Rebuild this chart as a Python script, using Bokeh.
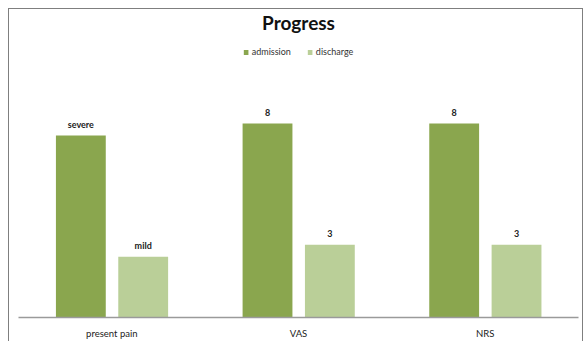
from bokeh.plotting import figure
from bokeh.models import ColumnDataSource, FactorRange, Range1d, Legend, LegendItem, Label
from bokeh.transform import dodge
from bokeh.core.properties import value
from bokeh.embed import file_html
from bokeh.resources import INLINE

categories = ["present pain", "VAS", "NRS"]
admission = [7.5, 8, 8]
discharge = [2.5, 3, 3]
admission_labels = ["severe", "8", "8"]
discharge_labels = ["mild", "3", "3"]
series_names = ["admission", "discharge"]
title_text = "Progress"

DARK = "#8AA64E"
LIGHT = "#BACF98"
FONT = "Lato"
BORDER = "1px solid #7f7f7f"

src = ColumnDataSource(dict(cat=categories, adm=admission, dis=discharge,
                            adm_lab=admission_labels, dis_lab=discharge_labels))

p = figure(width=575, height=333, x_range=FactorRange(*categories),
           y_range=Range1d(0, 12.70), output_backend="svg", toolbar_location=None,
           y_axis_location=None, min_border_left=9, min_border_right=6,
           min_border_top=0, min_border_bottom=25, margin=(8, 0, 0, 8),
           styles={"border-top": BORDER, "border-left": BORDER, "border-right": BORDER})
p.outline_line_color = None
p.grid.grid_line_color = None
p.background_fill_color = "white"
p.border_fill_color = "white"

r1 = p.vbar(x=dodge("cat", -0.166, range=p.x_range), top="adm", width=0.267,
            source=src, fill_color=DARK, line_color=None)
r2 = p.vbar(x=dodge("cat", 0.168, range=p.x_range), top="dis", width=0.267,
            source=src, fill_color=LIGHT, line_color=None)

for off, col, lab in ((-0.166, "adm", "adm_lab"), (0.168, "dis", "dis_lab")):
    p.text(x=dodge("cat", off, range=p.x_range), y=col, text=lab, source=src,
           text_align="center", text_baseline="middle", y_offset=-11,
           text_font=value(FONT), text_font_style="bold", text_font_size="9px",
           text_color="#222222")

ax = p.xaxis[0]
ax.major_tick_line_color = None
ax.minor_tick_line_color = None
ax.major_tick_out = 0
ax.major_tick_in = 0
ax.axis_line_color = "#9a9a9a"
ax.axis_line_width = 1.5
ax.major_label_text_font = FONT
ax.major_label_text_font_size = "9.5px"
ax.major_label_text_color = "#222222"
ax.major_label_standoff = 10

p.add_layout(Label(x=1.5, y=295, y_units="screen", text=title_text,
                   text_align="center", text_baseline="middle",
                   text_font=FONT, text_font_style="bold", text_font_size="19px",
                   text_color="#111111"))

legend = Legend(items=[LegendItem(label=series_names[0], renderers=[r1]),
                       LegendItem(label=series_names[1], renderers=[r2])],
                location="top_center", orientation="horizontal",
                label_text_font=FONT, label_text_font_size="9px", label_text_color="#333333",
                glyph_width=6, glyph_height=6, label_standoff=3, spacing=16,
                padding=0, margin=37, border_line_color=None, background_fill_alpha=0,
                label_height=10)
p.add_layout(legend)

open("out.html", "w").write(file_html(p, INLINE))
